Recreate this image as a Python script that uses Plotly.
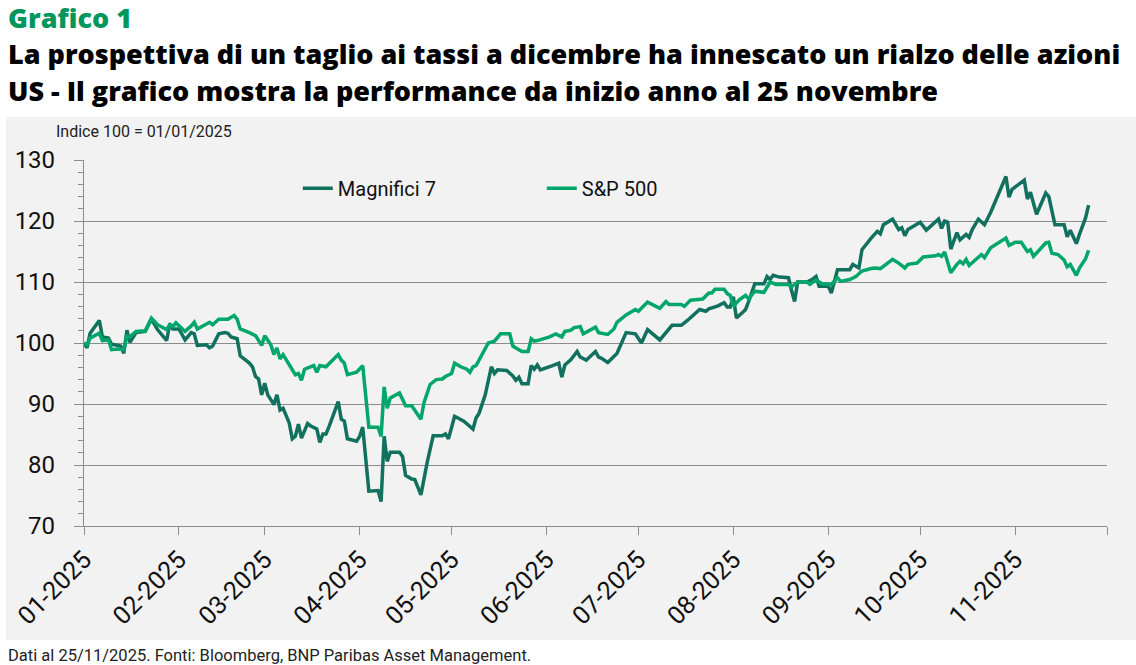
import pandas as pd
import plotly.graph_objects as go

# giorni dal 01/01/2025 (vertici) e livelli, base 100
giorni_m7 = [0, 1, 2, 5, 6, 8, 9, 11, 12, 13, 14, 15, 17, 20, 22, 24, 27, 28, 29, 31,
             33, 35, 36, 37, 40, 41, 42, 44, 46, 47, 48, 50, 51, 54, 55, 56, 57, 58, 59, 60,
             62, 63, 64, 65, 67, 68, 69, 70, 71, 73, 74, 76, 77, 78, 79, 80, 83, 84, 85, 86,
             89, 90, 91, 93, 96, 97, 98, 99, 100, 103, 104, 105, 107, 108, 110, 112, 114, 117, 118, 119,
             121, 124, 127, 128, 129, 131, 133, 134, 135, 138, 140, 141, 142, 143, 145, 146, 147, 148, 149, 153,
             155, 156, 157, 159, 161, 162, 164, 167, 168, 169, 171, 174, 175, 177, 180, 182, 184, 188, 192, 195,
             197, 199, 201, 203, 204, 207, 209, 210, 211, 212, 213, 215, 216, 217, 218, 219, 222, 223, 224, 225,
             227, 230, 231, 232, 233, 236, 238, 239, 240, 243, 244, 246, 250, 251, 253, 254, 257, 259, 260, 261,
             264, 266, 267, 268, 269, 273, 275, 279, 280, 281, 282, 283, 285, 286, 288, 289, 290, 292, 294, 296,
             301, 302, 303, 307, 308, 309, 311, 314, 315, 317, 320, 321, 322, 324, 325, 327, 328]
magnifici7 = [100.0, 99.2, 101.6, 103.7, 101.0, 100.8, 99.8, 99.6, 99.5, 98.3, 102.1, 100.1, 101.7, 101.9, 103.9, 102.2, 100.4, 103.2, 102.3, 102.3,
              100.5, 101.7, 101.5, 99.6, 99.7, 99.2, 99.5, 101.5, 101.7, 101.6, 101.0, 100.7, 97.9, 96.7, 96.1, 94.5, 94.1, 91.5, 93.4, 91.5,
              89.9, 91.5, 89.0, 89.3, 86.9, 84.3, 84.7, 86.7, 84.4, 86.8, 86.4, 85.9, 83.7, 85.1, 85.1, 86.3, 90.4, 87.5, 87.2, 84.3,
              83.9, 84.7, 86.2, 75.7, 75.8, 74.0, 84.7, 80.6, 82.1, 82.1, 81.4, 78.3, 77.7, 77.6, 75.1, 80.3, 84.8, 84.8, 85.1, 84.3,
              88.0, 87.2, 85.9, 87.7, 88.5, 91.5, 96.1, 95.0, 95.6, 95.5, 94.6, 93.9, 94.4, 93.3, 93.3, 96.3, 95.7, 96.4, 95.6, 96.3,
              96.7, 94.4, 96.4, 97.3, 98.6, 97.7, 97.2, 98.6, 97.7, 97.5, 96.8, 98.3, 99.5, 101.7, 101.5, 100.0, 102.2, 100.5, 102.9, 102.9,
              103.7, 104.7, 105.5, 105.2, 105.6, 106.1, 106.6, 105.9, 105.9, 107.6, 104.1, 105.0, 105.5, 106.8, 108.2, 109.7, 109.7, 110.9, 110.4, 111.1,
              110.8, 110.7, 108.6, 106.8, 110.0, 110.0, 110.5, 110.9, 109.3, 109.3, 108.2, 112.0, 112.0, 112.9, 112.3, 115.3, 117.2, 118.3, 117.9, 119.4,
              120.3, 118.6, 118.9, 117.6, 118.6, 119.8, 118.5, 120.3, 118.8, 120.0, 119.8, 115.4, 118.1, 116.9, 117.8, 117.3, 118.6, 120.3, 119.4, 121.4,
              127.3, 123.9, 125.2, 126.7, 123.6, 124.7, 121.1, 124.6, 124.0, 119.4, 119.4, 117.4, 118.5, 116.3, 117.8, 120.5, 122.6]

giorni_spx = [0, 1, 2, 5, 6, 8, 9, 11, 13, 14, 15, 17, 20, 22, 24, 27, 28, 29, 30, 33,
              35, 36, 37, 41, 42, 44, 47, 49, 50, 51, 54, 56, 58, 59, 61, 62, 63, 64, 65, 69,
              70, 71, 72, 75, 76, 77, 79, 83, 84, 85, 86, 89, 91, 93, 96, 97, 98, 99, 100, 103,
              105, 107, 110, 111, 113, 115, 117, 118, 120, 121, 123, 125, 126, 127, 128, 130, 132, 134, 136, 139,
              140, 141, 143, 145, 146, 147, 148, 152, 154, 156, 157, 159, 160, 161, 162, 163, 167, 168, 171, 173,
              174, 177, 180, 181, 184, 188, 190, 191, 195, 196, 198, 202, 203, 204, 205, 206, 209, 210, 211, 212,
              214, 216, 217, 218, 219, 222, 224, 226, 230, 231, 233, 236, 237, 239, 241, 244, 246, 247, 250, 252,
              254, 257, 258, 260, 262, 264, 266, 268, 269, 272, 274, 278, 279, 280, 281, 283, 285, 286, 287, 288,
              289, 293, 294, 296, 301, 302, 304, 306, 308, 309, 310, 314, 315, 316, 318, 320, 321, 322, 324, 325,
              327, 328]
sp500 = [100.0, 99.7, 100.8, 101.6, 100.4, 100.5, 98.9, 99.0, 98.9, 101.1, 101.0, 101.9, 102.0, 104.1, 103.0, 102.2, 103.0, 102.7, 103.3, 101.9,
         102.8, 103.4, 102.3, 103.4, 103.0, 103.9, 103.9, 104.5, 103.9, 102.3, 101.7, 101.2, 99.6, 101.2, 99.7, 98.1, 99.2, 97.4, 98.1, 94.8,
         95.0, 93.9, 95.7, 96.3, 95.2, 96.3, 96.1, 98.1, 97.2, 96.7, 94.8, 95.2, 96.3, 86.2, 86.2, 84.7, 92.8, 89.3, 91.0, 91.8,
         89.7, 89.7, 87.5, 90.2, 93.2, 94.0, 94.1, 94.5, 95.0, 96.7, 96.1, 95.7, 95.2, 96.1, 96.3, 98.1, 100.0, 100.3, 101.5, 101.5,
         99.5, 99.2, 98.6, 98.6, 100.7, 100.3, 100.4, 101.0, 101.5, 101.0, 101.9, 102.1, 102.5, 102.6, 102.7, 101.5, 102.6, 101.7, 101.4, 102.3,
         103.4, 104.6, 105.5, 105.2, 106.7, 105.7, 106.8, 106.3, 106.3, 106.0, 107.0, 107.2, 107.7, 108.2, 108.2, 108.8, 108.8, 108.1, 107.8, 106.0,
         107.1, 107.8, 107.2, 107.9, 108.5, 108.3, 110.0, 109.6, 109.6, 109.2, 110.0, 110.0, 109.6, 110.3, 109.7, 109.6, 110.7, 110.1, 110.4, 110.9,
         111.8, 112.2, 112.3, 112.2, 113.0, 113.7, 113.1, 112.3, 112.9, 113.1, 114.1, 114.3, 114.5, 114.2, 114.9, 111.5, 112.9, 113.4, 113.0, 113.7,
         112.7, 114.5, 114.0, 115.6, 117.2, 116.0, 116.5, 116.5, 115.0, 115.3, 114.2, 116.4, 116.5, 114.7, 114.5, 113.6, 112.5, 112.9, 111.1, 112.3,
         113.8, 115.2]

mesi = ["2025-01-01", "2025-02-01", "2025-03-01", "2025-04-01", "2025-05-01", "2025-06-01",
        "2025-07-01", "2025-08-01", "2025-09-01", "2025-10-01", "2025-11-01", "2025-12-01"]
etichette_mesi = ["01-2025", "02-2025", "03-2025", "04-2025", "05-2025", "06-2025",
                  "07-2025", "08-2025", "09-2025", "10-2025", "11-2025", ""]

inizio = pd.Timestamp("2025-01-01")
date_m7 = inizio + pd.to_timedelta(giorni_m7, unit="D")
date_spx = inizio + pd.to_timedelta(giorni_spx, unit="D")

VERDE_SCURO = "#12705f"
VERDE = "#00a66c"
FONT = "Roboto"
FONT_TITOLO = "Open Sans"

fig = go.Figure()
fig.add_trace(go.Scatter(x=date_m7, y=magnifici7, mode="lines", name="Magnifici 7",
                         line=dict(color=VERDE_SCURO, width=3.5)))
fig.add_trace(go.Scatter(x=date_spx, y=sp500, mode="lines", name="S&P 500",
                         line=dict(color=VERDE, width=3.5)))

fig.update_layout(
    width=1136, height=665,
    margin=dict(l=81, r=29, t=160, b=139),
    paper_bgcolor="white", plot_bgcolor="#f2f2f2",
    font=dict(family=FONT, color="#111111"),
    showlegend=True,
    legend=dict(orientation="h", x=0.209, y=0.923, xanchor="left", yanchor="middle",
                bgcolor="rgba(0,0,0,0)", font=dict(size=20, color="#111111"),
                entrywidth=199, itemwidth=30),
)

# sfondo grigio del riquadro del grafico
fig.add_shape(type="rect", xref="paper", yref="paper", x0=-0.0764, x1=1.03, y0=-0.3115, y1=1.1175,
              fillcolor="#f2f2f2", line=dict(width=0), layer="below")

fig.update_xaxes(range=["2025-01-01", "2025-12-01"], tickvals=mesi, ticktext=etichette_mesi,
                 tickangle=-45, tickfont=dict(size=25, color="#111111"),
                 showgrid=False, showline=True, linecolor="#8c8c8c", linewidth=1.2,
                 ticks="outside", ticklen=8, tickcolor="#8c8c8c", zeroline=False)
fig.update_yaxes(range=[70, 130], dtick=10, tickfont=dict(size=24, color="#111111"),
                 ticklabelstandoff=14,
                 showgrid=True, gridcolor="#8c8c8c", gridwidth=1.2,
                 showline=True, linecolor="#8c8c8c", linewidth=1.2,
                 ticks="outside", ticklen=9, tickcolor="#8c8c8c",
                 minor=dict(dtick=2, ticks="outside", ticklen=5, tickcolor="#8c8c8c", showgrid=False),
                 zeroline=False)

titoli = [
    ("Grafico 1", 1.3907, 27, "#00965e"),
    ("La prospettiva di un taglio ai tassi a dicembre ha innescato un rialzo delle azioni", 1.2900, 27, "#000000"),
    ("US - Il grafico mostra la performance da inizio anno al 25 novembre", 1.1890, 27, "#000000"),
]
for testo, yy, size, col in titoli:
    fig.add_annotation(text=testo, xref="paper", yref="paper", x=-0.0764, y=yy,
                       xanchor="left", yanchor="middle", showarrow=False,
                       font=dict(family=FONT_TITOLO, size=size, color=col, weight=800))

fig.add_annotation(text="Indice 100 = 01/01/2025", xref="paper", yref="paper", x=-0.0296, y=1.0792,
                   xanchor="left", yanchor="middle", showarrow=False,
                   font=dict(family=FONT, size=16, color="#222222"))
fig.add_annotation(text="Dati al 25/11/2025. Fonti: Bloomberg, BNP Paribas Asset Management.",
                   xref="paper", yref="paper", x=-0.0764, y=-0.3525,
                   xanchor="left", yanchor="middle", showarrow=False,
                   font=dict(family=FONT, size=16.5, color="#222222"))

# niente margine del body, cosi' la figura parte dall'angolo della pagina
fig.write_html("out.html", config={"displayModeBar": False},
               post_script="document.body.style.margin='0';")
